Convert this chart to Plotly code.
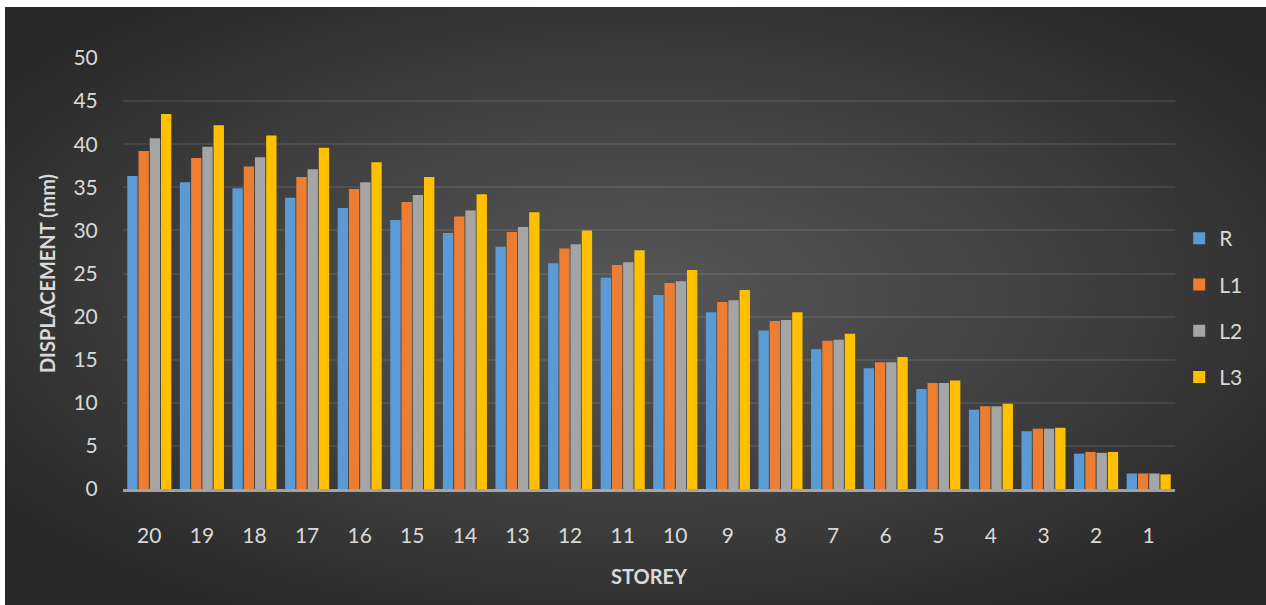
import base64
import plotly.graph_objects as go

# Storey labels (top storey first) and peak displacement per load case, in mm
storeys = ["20", "19", "18", "17", "16", "15", "14", "13", "12", "11",
           "10", "9", "8", "7", "6", "5", "4", "3", "2", "1"]
disp_R = [36.3, 35.6, 34.9, 33.8, 32.6, 31.2, 29.7, 28.1, 26.2, 24.5,
          22.5, 20.5, 18.4, 16.2, 14.0, 11.6, 9.2, 6.7, 4.1, 1.8]
disp_L1 = [39.2, 38.4, 37.4, 36.2, 34.8, 33.3, 31.6, 29.8, 27.9, 26.0,
           23.9, 21.7, 19.5, 17.2, 14.7, 12.3, 9.6, 7.0, 4.3, 1.8]
disp_L2 = [40.7, 39.7, 38.5, 37.1, 35.6, 34.1, 32.3, 30.4, 28.4, 26.3,
           24.1, 21.9, 19.6, 17.3, 14.7, 12.3, 9.6, 7.0, 4.2, 1.8]
disp_L3 = [43.5, 42.2, 41.0, 39.6, 37.9, 36.2, 34.2, 32.1, 30.0, 27.7,
           25.4, 23.1, 20.5, 18.0, 15.3, 12.6, 9.9, 7.1, 4.3, 1.7]

series = [
    ("R", disp_R, "#5b9bd5"),
    ("L1", disp_L1, "#ed7d31"),
    ("L2", disp_L2, "#a5a5a5"),
    ("L3", disp_L3, "#ffc000"),
]

W, H = 1266, 605
ML, MR, MT, MB = 123, 91, 58, 116
plot_w = W - ML - MR
plot_h = H - MT - MB

FONT = "Lato"
TXT = "#d9d9d9"

fig = go.Figure()
for name, vals, col in series:
    fig.add_trace(go.Bar(
        x=storeys, y=vals, name=name, legendgroup=name,
        marker=dict(color=col, line=dict(width=0)),
    ))

# dark radial-gradient chart background
svg = (
    '<svg xmlns="http://www.w3.org/2000/svg" width="1000" height="500" preserveAspectRatio="none">'
    '<defs><radialGradient id="g" cx="0.5" cy="0.48" r="0.62">'
    '<stop offset="0" stop-color="#575757"/>'
    '<stop offset="0.55" stop-color="#404040"/>'
    '<stop offset="1" stop-color="#282828"/>'
    '</radialGradient></defs>'
    '<rect width="1000" height="500" fill="url(#g)"/></svg>'
)
bg_src = "data:image/svg+xml;base64," + base64.b64encode(svg.encode()).decode()

x0 = (5 - ML) / plot_w
x1 = (W - ML) / plot_w
y0 = (H - MB - 7) / plot_h
y1 = (H - MB - H) / plot_h

fig.add_layout_image(dict(
    source=bg_src, xref="paper", yref="paper",
    x=x0, y=y0, sizex=x1 - x0, sizey=y0 - y1,
    xanchor="left", yanchor="top", sizing="stretch", layer="below",
))

fig.update_layout(
    width=W, height=H,
    margin=dict(l=ML, r=MR, t=MT, b=MB),
    paper_bgcolor="white",
    plot_bgcolor="rgba(0,0,0,0)",
    barmode="group",
    bargap=0.145,
    bargroupgap=0.08,
    font=dict(family=FONT, color=TXT, size=21),
    showlegend=True,
    legend=dict(
        x=1.004, xanchor="left", y=0.42, yanchor="middle",
        bgcolor="rgba(0,0,0,0)", tracegroupgap=16,
        font=dict(family=FONT, size=21, color=TXT),
        itemwidth=30,
    ),
    xaxis=dict(
        type="category",
        showgrid=False,
        ticks="outside", ticklen=26, tickcolor="rgba(0,0,0,0)",
        tickfont=dict(family=FONT, size=21, color=TXT),
        showline=True, linecolor="rgba(210,210,210,0.7)", linewidth=3,
        title=dict(text="<b>STOREY</b>", standoff=24,
                   font=dict(family=FONT, size=20, color=TXT)),
    ),
    yaxis=dict(
        range=[0, 50], dtick=5,
        showgrid=True, gridcolor="rgba(255,255,255,0.08)", gridwidth=2,
        zeroline=False,
        ticks="outside", ticklen=20, tickcolor="rgba(0,0,0,0)",
        tickfont=dict(family=FONT, size=21, color=TXT),
        title=dict(text="<b>DISPLACEMENT (mm)</b>", standoff=12,
                   font=dict(family=FONT, size=20, color=TXT)),
    ),
)

fig.write_html("out.html")
